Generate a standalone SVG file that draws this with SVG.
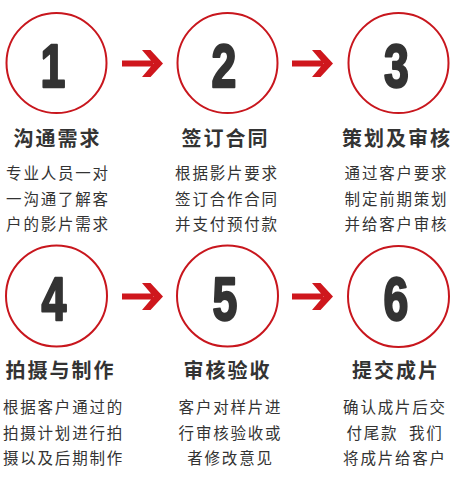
<svg xmlns="http://www.w3.org/2000/svg" width="459" height="481" viewBox="0 0 459 481">
<style>
.ring{fill:none;stroke:#c8161d;stroke-width:2}
.num{font-family:"Liberation Sans",Arial,sans-serif;font-weight:bold;font-size:62px;fill:#333;stroke:#333;stroke-width:2.4;stroke-linejoin:round;text-anchor:middle}
.title{font-family:"Noto Sans CJK SC","Noto Sans",sans-serif;font-weight:bold;font-size:20px;letter-spacing:2px;fill:#333;text-anchor:middle}
.desc{font-family:"Noto Sans CJK SC","Noto Sans",sans-serif;font-size:15.5px;letter-spacing:1.8px;fill:#333;text-anchor:middle}
.arrow{fill:#cf171d}
</style>
<defs>
<path id="arr" d="M0,-3 H31 V3 H0 Z M20,-13.5 H28.5 L41,0 L28.5,13.5 H20 L31.5,0 Z"/>
</defs>
<rect width="459" height="481" fill="#fff"/>
<g id="connectors" class="arrow">
<use href="#arr" x="122" y="63.5"/>
<use href="#arr" x="292" y="63.5"/>
<use href="#arr" x="122" y="296.5"/>
<use href="#arr" x="292" y="296.5"/>
</g>
<g id="step1">
<circle class="ring" cx="56.5" cy="63" r="50"/>
<text class="num" transform="translate(53,86.5) scale(0.72,1)">1</text>
<text class="title" x="57.5" y="146">沟通需求</text>
<text class="desc" x="58" y="179">专业人员一对</text>
<text class="desc" x="58" y="204.5">一沟通了解客</text>
<text class="desc" x="58" y="230">户的影片需求</text>
</g>
<g id="step2">
<circle class="ring" cx="227.5" cy="63" r="50"/>
<text class="num" transform="translate(224,86.5) scale(0.72,1)">2</text>
<text class="title" x="225.5" y="146">签订合同</text>
<text class="desc" x="227" y="179">根据影片要求</text>
<text class="desc" x="227" y="204.5">签订合作合同</text>
<text class="desc" x="227" y="230">并支付预付款</text>
</g>
<g id="step3">
<circle class="ring" cx="398.5" cy="63" r="50"/>
<text class="num" transform="translate(396.5,86.5) scale(0.72,1)">3</text>
<text class="title" x="397" y="146">策划及审核</text>
<text class="desc" x="396.5" y="179">通过客户要求</text>
<text class="desc" x="396.5" y="204.5">制定前期策划</text>
<text class="desc" x="396.5" y="230">并给客户审核</text>
</g>
<g id="step4">
<circle class="ring" cx="56.5" cy="296" r="50.5"/>
<text class="num" transform="translate(54,320) scale(0.72,1)">4</text>
<text class="title" x="60.5" y="378">拍摄与制作</text>
<text class="desc" x="63.5" y="413">根据客户通过的</text>
<text class="desc" x="63.5" y="438.5">拍摄计划进行拍</text>
<text class="desc" x="63.5" y="464">摄以及后期制作</text>
</g>
<g id="step5">
<circle class="ring" cx="227.5" cy="296" r="50.5"/>
<text class="num" transform="translate(225,320) scale(0.72,1)">5</text>
<text class="title" x="227.5" y="378">审核验收</text>
<text class="desc" x="230.5" y="413">客户对样片进</text>
<text class="desc" x="230.5" y="438.5">行审核验收或</text>
<text class="desc" x="230.5" y="464">者修改意见</text>
</g>
<g id="step6">
<circle class="ring" cx="398.5" cy="296.5" r="50.5"/>
<text class="num" transform="translate(396,320) scale(0.72,1)">6</text>
<text class="title" x="396" y="378">提交成片</text>
<text class="desc" x="395" y="413">确认成片后交</text>
<text class="desc" x="395" y="438.5" xml:space="preserve">付尾款  我们</text>
<text class="desc" x="395" y="464">将成片给客户</text>
</g>
</svg>
